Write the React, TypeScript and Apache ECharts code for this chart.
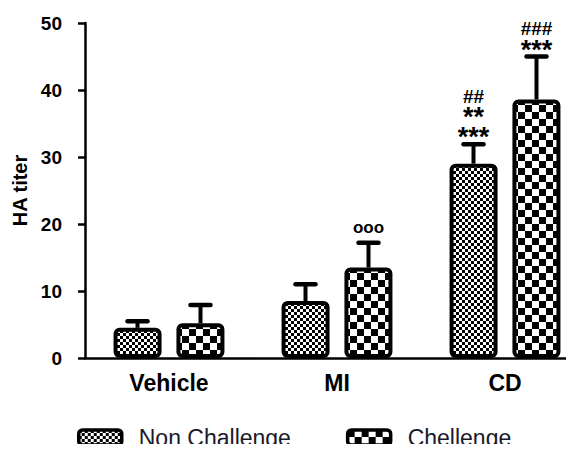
import React, { useEffect, useRef } from "react";
import * as echarts from "echarts";

const categories = ["Vehicle", "MI", "CD"];
const nonChallenge = [4.5, 8.5, 29.0];
const nonChallengeErr = [1.0, 2.5, 2.9];
const challenge = [5.2, 13.5, 38.6];
const challengeErr = [2.7, 3.7, 6.4];
const nonChallengeMarks = ["", "", "##\n**\n***"];
const challengeMarks = ["", "ooo", "###\n***"];
const yTicks = [0, 10, 20, 30, 40, 50];

const FONT = "'Liberation Sans', Arial, sans-serif";

function checker(cell: number) {
  const c = document.createElement("canvas");
  c.width = cell * 2;
  c.height = cell * 2;
  const ctx = c.getContext("2d")!;
  ctx.fillStyle = "#ffffff";
  ctx.fillRect(0, 0, cell * 2, cell * 2);
  ctx.fillStyle = "#000000";
  ctx.fillRect(0, 0, cell, cell);
  ctx.fillRect(cell, cell, cell, cell);
  return c;
}

function richLine(s: string) {
  if (s.indexOf("*") >= 0) return `{a|${s}}`;
  if (s.indexOf("#") >= 0) return `{h|${s}}`;
  return `{o|${s}}`;
}

export default function App() {
  const ref = useRef<HTMLDivElement>(null);
  useEffect(() => {
    if (!ref.current) return;
    const chart = echarts.init(ref.current, undefined, { renderer: "svg" });
    const fine = { image: checker(3), repeat: "repeat" };
    const coarse = { image: checker(7), repeat: "repeat" };
    const OFF = 31.5;

    const errData = (vals: number[], errs: number[], side: number) =>
      vals.map((v, i) => [i, v, errs[i], side]);

    const renderErr = (marks: string[]) => (params: any, api: any) => {
      const i = api.value(0);
      const m = api.value(1);
      const e = api.value(2);
      const side = api.value(3);
      const b = api.coord([i, m]);
      const t = api.coord([i, m + e]);
      const x = b[0] + side * OFF;
      const children: any[] = [
        { type: "line", shape: { x1: x, y1: b[1], x2: x, y2: t[1] }, style: { stroke: "#000", lineWidth: 4 } },
        { type: "line", shape: { x1: x - 10, y1: t[1], x2: x + 10, y2: t[1] }, style: { stroke: "#000", lineWidth: 4.5, lineCap: "round" } },
      ];
      const mk = marks[params.dataIndex];
      if (mk) {
        const isO = mk.indexOf("o") >= 0;
        children.push({
          type: "text",
          x: x,
          y: t[1] + (isO ? -8 : 3),
          style: {
            text: mk.split("\n").map(richLine).join("\n"),
            fill: "#000",
            align: "center",
            verticalAlign: "bottom",
            rich: {
              a: { font: `bold 27px ${FONT}`, lineHeight: 20, fill: "#000" },
              h: { font: `bold 19px ${FONT}`, lineHeight: 22, fill: "#000" },
              o: { font: `bold 17px ${FONT}`, lineHeight: 14, fill: "#000" },
            },
          },
        });
      }
      return { type: "group", children };
    };

    chart.setOption({
      animation: false,
      grid: { left: 85, width: 504, top: 23, bottom: 94, outerBoundsMode: "none" },
      legend: {
        left: 77,
        top: 426,
        padding: 0,
        itemWidth: 43,
        itemHeight: 15,
        itemGap: 55,
        data: ["Non Challenge", "Chellenge"],
        itemStyle: { borderColor: "#000", borderWidth: 3.5 },
        textStyle: { fontFamily: FONT, fontSize: 23, color: "#1a1a2a", padding: [0, 0, 0, 12] },
      },
      xAxis: {
        type: "category",
        data: categories,
        axisLine: { lineStyle: { color: "#000", width: 2.5 } },
        axisTick: { alignWithLabel: true, length: 7, lineStyle: { color: "#000", width: 2.5 } },
        axisLabel: { color: "#000", fontFamily: FONT, fontWeight: "bold", fontSize: 23, margin: 13 },
      },
      yAxis: {
        type: "value",
        min: yTicks[0],
        max: yTicks[yTicks.length - 1],
        interval: 10,
        name: "HA titer",
        nameLocation: "middle",
        nameGap: 54,
        nameTextStyle: { color: "#000", fontFamily: FONT, fontWeight: "bold", fontSize: 20 },
        axisLine: { show: true, lineStyle: { color: "#000", width: 2.5 } },
        axisTick: { show: true, length: 7, lineStyle: { color: "#000", width: 2.5 } },
        axisLabel: { color: "#000", fontFamily: FONT, fontWeight: "bold", fontSize: 19, margin: 23 },
        splitLine: { show: false },
      },
      series: [
        {
          name: "Non Challenge",
          type: "bar",
          data: nonChallenge,
          barWidth: 48,
          barGap: "31%",
          itemStyle: { color: fine, borderColor: "#000", borderWidth: 4, borderRadius: 4 },
          z: 2,
        },
        {
          name: "Chellenge",
          type: "bar",
          data: challenge,
          barWidth: 48,
          barGap: "31%",
          itemStyle: { color: coarse, borderColor: "#000", borderWidth: 4, borderRadius: 4 },
          z: 2,
        },
        {
          type: "custom",
          data: errData(nonChallenge, nonChallengeErr, -1),
          renderItem: renderErr(nonChallengeMarks),
          z: 3,
        },
        {
          type: "custom",
          data: errData(challenge, challengeErr, 1),
          renderItem: renderErr(challengeMarks),
          z: 3,
        },
      ],
    });
    return () => chart.dispose();
  }, []);
  return <div ref={ref} style={{ width: 574, height: 452, margin: -8 }} />;
}
